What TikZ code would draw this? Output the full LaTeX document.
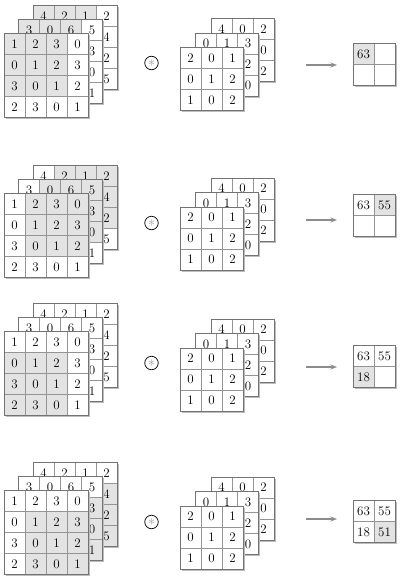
\documentclass[tikz,border=0pt]{standalone}
\usetikzlibrary{arrows.meta}
\definecolor{shadec}{gray}{0.89}
\definecolor{linec}{gray}{0.58}
\definecolor{shadowc}{gray}{0.74}
\definecolor{framec}{gray}{0.45}
\definecolor{arrowc}{gray}{0.55}
\tikzset{
  cellnode/.style={draw=linec, line width=0.5pt, minimum size=21pt, inner sep=0pt, outer sep=0pt,
    font=\fontsize{13}{15}\selectfont, text=black},
  matframe/.style={draw=framec, line width=0.7pt},
  opnode/.style={circle, draw=black, line width=0.7pt, minimum size=13.5pt, inner sep=0pt, fill=white},
  flowarrow/.style={draw=arrowc, line width=1.6pt, -{Stealth[length=6.5pt,width=5pt]}},
}
% #1 name, #2 x-left, #3 y-top, #4 n, #5 rows, #6 r0, #7 c0, #8 window size
\newcommand\drawmat[8]{%
  \fill[shadowc] (#2+1.6,#3+1.6) rectangle (#2+#4*21+1.6,#3+#4*21+1.6);
  \fill[white] (#2,#3) rectangle (#2+#4*21,#3+#4*21);
  \foreach \row [count=\r] in {#5}{%
    \foreach \v [count=\c] in \row{%
      \pgfmathtruncatemacro\sh{and(and(\r>=#6,\r<#6+#8),and(\c>=#7,\c<#7+#8))}%
      \ifnum\sh=1 \def\fc{shadec}\else\def\fc{white}\fi
      \node[cellnode, fill=\fc] (#1-\r-\c) at (#2+\c*21-10.5,#3+\r*21-10.5) {\v};
    }%
  }%
  \draw[matframe] (#2,#3) rectangle (#2+#4*21,#3+#4*21);
}
% #1 id, #2 input top, #3 filter top, #4 circle y, #5 arrow y, #6 output top, #7 r0, #8 c0, #9 output rows
\newcommand\panel[9]{%
  \drawmat{#1ib}{33}{#2-28}{4}{{4,2,1,2},{{},{},{},4},{{},{},{},2},{{},{},{},5}}{#7}{#8}{3}
  \drawmat{#1im}{18.5}{#2-14}{4}{{3,0,6,5},{{},{},{},3},{{},{},{},0},{{},{},{},1}}{#7}{#8}{3}
  \drawmat{#1if}{4}{#2}{4}{{1,2,3,0},{0,1,2,3},{3,0,1,2},{2,3,0,1}}{#7}{#8}{3}
  \drawmat{#1kb}{211}{#3-29}{3}{{4,0,2},{{},{},0},{{},{},2}}{0}{0}{0}
  \drawmat{#1km}{195.5}{#3-14.5}{3}{{0,1,3},{{},{},2},{{},{},0}}{0}{0}{0}
  \drawmat{#1kf}{180}{#3}{3}{{2,0,1},{0,1,2},{1,0,2}}{0}{0}{0}
  \node[opnode] (#1op) at (151.5,#4) {\textcolor{gray!75}{\fontsize{14}{14}\selectfont$\ast$}};
  \coordinate (#1as) at (306,#5);
  \coordinate (#1ae) at (337,#5);
  \draw[flowarrow] (#1as) -- (#1ae);
  \drawmat{#1out}{353}{#6}{2}{#9}{#7}{#8}{1}
}
\begin{document}
\begin{tikzpicture}[x=1pt,y=-1pt]
  \useasboundingbox (0,0) rectangle (400,579);
  \panel{p1}{33.5}{47.5}{63}{65}{43.5}{1}{1}{{63,{}},{{},{}}}
  \panel{p2}{193.5}{207}{223}{220}{194.5}{1}{2}{{63,55},{{},{}}}
  \panel{p3}{331.5}{348}{363}{367}{345.5}{2}{1}{{63,55},{18,{}}}
  \panel{p4}{490.5}{506}{522}{519}{500.5}{2}{2}{{63,55},{18,51}}
\end{tikzpicture}
\end{document}
